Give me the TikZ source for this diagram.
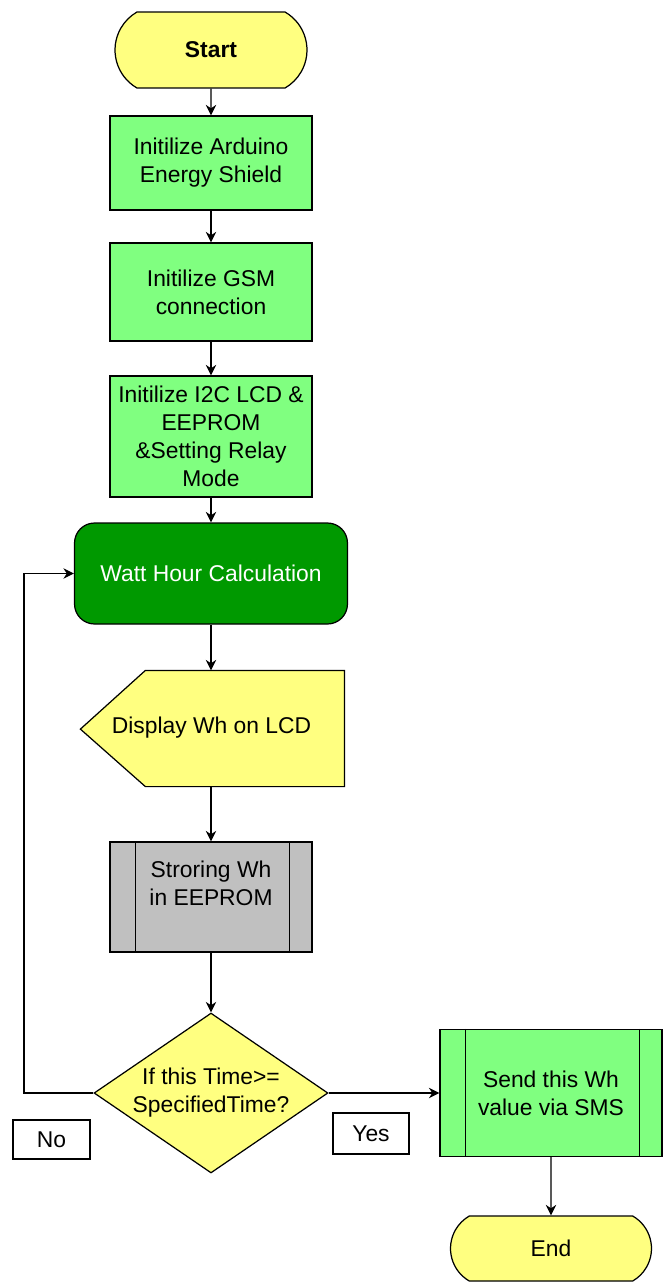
\documentclass[tikz,border=0pt]{standalone}
\usepackage{fontspec}
\setmainfont{Liberation Sans}
\usetikzlibrary{shapes.geometric,shapes.misc,arrows.meta}
\definecolor{termyellow}{HTML}{FFFF80}
\definecolor{boxgreen}{HTML}{80FF80}
\definecolor{calcgreen}{HTML}{009900}
\definecolor{storegray}{HTML}{C0C0C0}
\tikzset{
  base/.style={draw, line width=0.7pt, inner sep=0pt, align=center, font=\fontsize{13}{15.9}\selectfont},
  term/.style={base, rounded rectangle, rounded rectangle arc length=120, fill=termyellow},
  initbox/.style={base, rectangle, fill=boxgreen, minimum width=4.04cm},
  calcbox/.style={base, rectangle, rounded corners=0.4cm, fill=calcgreen, text=white},
  dispbox/.style={base, rectangle, draw=none, minimum width=3.96cm, minimum height=2.3cm},
  subproc/.style={base, rectangle},
  decision/.style={base, diamond, shape aspect=1.46, fill=termyellow},
  answer/.style={base, rectangle},
  flow/.style={->, line width=0.7pt}
}
\begin{document}
\begin{tikzpicture}[x=0.02cm, y=-0.02cm, >={Stealth[length=6pt,width=6pt]}]
\useasboundingbox (0,0) rectangle (667,1282);
% main column
\node[term, minimum width=3.84cm, minimum height=1.52cm] (start) at (211,50) {\textbf{Start}};
\node[initbox, minimum height=1.88cm] (arduino) at (211,163) {Initilize Arduino\\Energy Shield};
\node[initbox, minimum height=1.96cm] (gsm) at (211,292) {Initilize GSM\\connection};
\node[initbox, minimum height=2.42cm] (lcd) at (211,436.5) {Initilize I2C LCD \&\\EEPROM\\\&Setting Relay\\Mode};
\node[calcbox, minimum width=5.46cm, minimum height=2.02cm] (watt) at (211,573.5) {Watt Hour Calculation};
% display: body node plus pointed left end
\node[dispbox] (disp) at (245,728.5) {};
\draw[line width=0.7pt, fill=termyellow] (disp.north west) -- (disp.north east) -- (disp.south east)
  -- (disp.south west) -- ++(-65,-57.5) -- cycle;
\node[base, draw=none] (disptext) at (211.5,728) {Display Wh on LCD};
\node[subproc, fill=storegray, minimum width=4.04cm, minimum height=2.2cm] (store) at (211,897) {Stroring Wh\\in EEPROM\\\mbox{}};
\node[decision, minimum width=4.68cm, minimum height=3.2cm] (dec) at (211,1093) {If this Time>=\\SpecifiedTime?};
% right branch
\node[subproc, fill=boxgreen, minimum width=4.44cm, minimum height=2.54cm] (send) at (551,1093) {Send this Wh\\value via SMS};
\node[term, minimum width=4.02cm, minimum height=1.3cm] (end) at (551,1248.5) {End};
% answers
\node[answer, minimum width=1.52cm, minimum height=0.82cm] (yes) at (371,1133.5) {Yes};
\node[answer, minimum width=1.54cm, minimum height=0.78cm] (no) at (51.5,1139.5) {No};
% side bars of the sub-process boxes
\foreach \n in {store,send}{
  \draw[line width=0.7pt] ([xshift=0.52cm]\n.north west) -- ([xshift=0.52cm]\n.south west)
    ([xshift=-0.46cm]\n.north east) -- ([xshift=-0.46cm]\n.south east);
}
% connectors
\draw[flow] (start) -- (arduino);
\draw[flow] (arduino) -- (gsm);
\draw[flow] (gsm) -- (lcd);
\draw[flow] (lcd) -- (watt);
\draw[flow] (watt) -- (watt |- disp.north);
\draw[flow] (watt |- disp.south) -- (store);
\draw[flow] (store) -- (dec);
\draw[flow] (dec) -- (send);
\draw[flow] (send) -- (end);
\coordinate (back) at (24,1093);
\draw[flow] (dec.west) -- (back) |- (watt.west);
\end{tikzpicture}
\end{document}
